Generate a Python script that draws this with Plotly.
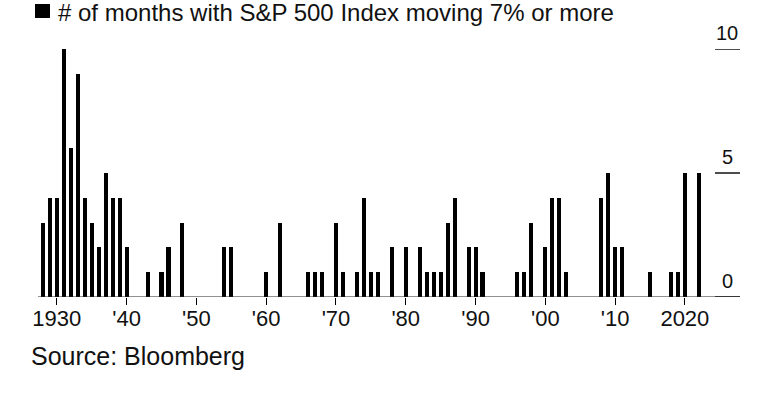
import plotly.graph_objects as go

years = list(range(1928, 2023))
months_7pct = [
    3, 4, 4, 10, 6, 9, 4, 3, 2, 5, 4, 4,      # 1928-1939
    2, 0, 0, 1, 0, 1, 2, 0, 3, 0,            # 1940-1949
    0, 0, 0, 0, 2, 2, 0, 0, 0, 0,            # 1950-1959
    1, 0, 3, 0, 0, 0, 1, 1, 1, 0,            # 1960-1969
    3, 1, 0, 1, 4, 1, 1, 0, 2, 0,            # 1970-1979
    2, 0, 2, 1, 1, 1, 3, 4, 0, 2,            # 1980-1989
    2, 1, 0, 0, 0, 0, 1, 1, 3, 0,            # 1990-1999
    2, 4, 4, 1, 0, 0, 0, 0, 4, 5,            # 2000-2009
    2, 2, 0, 0, 0, 1, 0, 0, 1, 1,            # 2010-2019
    5, 0, 5,                                 # 2020-2022
]
tick_years = [1930, 1940, 1950, 1960, 1970, 1980, 1990, 2000, 2010, 2020]
tick_labels = ["1930", "'40", "'50", "'60", "'70", "'80", "'90", "'00", "'10", "2020"]
y_ticks = [0, 5, 10]
y_tick_labels = ["0", "5", "10"]

legend_text = "# of months with S&P 500 Index moving 7% or more"
source_text = "Source: Bloomberg"

FONT = "Liberation Sans, Arial, Helvetica, sans-serif"
W, H = 778, 401
ML, MR, MT, MB = 38, 38, 49, 104
plot_w = W - ML - MR
plot_h = H - MT - MB


def px_to_paper_x(px):
    return (px - ML) / plot_w


def px_to_paper_y(py):
    return (H - MB - py) / plot_h


fig = go.Figure()
fig.add_trace(go.Bar(
    x=years, y=months_7pct, width=0.58,
    marker=dict(color="#000000", line=dict(width=0)),
    showlegend=False, hoverinfo="x+y",
))

shapes = []
annotations = []
# right-hand y tick stubs and labels
for v, lab in zip(y_ticks, y_tick_labels):
    shapes.append(dict(type="line", xref="paper", yref="y",
                       x0=px_to_paper_x(715), x1=1.0, y0=v, y1=v,
                       line=dict(color="#000000", width=1.4)))
    annotations.append(dict(xref="paper", yref="y", x=px_to_paper_x(727), y=v,
                            yshift=16, text=lab, showarrow=False,
                            xanchor="center", yanchor="middle",
                            font=dict(family=FONT, size=20, color="#111111")))

# baseline
shapes.append(dict(type="line", xref="paper", yref="y", x0=0, x1=1, y0=0, y1=0,
                   line=dict(color="#222222", width=1)))

# legend square
shapes.append(dict(type="rect", xref="paper", yref="paper",
                   x0=px_to_paper_x(35), x1=px_to_paper_x(50),
                   y0=px_to_paper_y(18), y1=px_to_paper_y(4),
                   fillcolor="#000000", line=dict(width=0)))
annotations.append(dict(xref="paper", yref="paper", x=px_to_paper_x(56), y=px_to_paper_y(12),
                        text=legend_text, showarrow=False, xanchor="left", yanchor="middle",
                        font=dict(family=FONT, size=24, color="#111111")))
annotations.append(dict(xref="paper", yref="paper", x=px_to_paper_x(29), y=px_to_paper_y(356),
                        text=source_text, showarrow=False, xanchor="left", yanchor="middle",
                        font=dict(family=FONT, size=25, color="#111111")))

fig.update_layout(
    width=W, height=H,
    margin=dict(l=ML, r=MR, t=MT, b=MB, pad=0),
    plot_bgcolor="#ffffff", paper_bgcolor="#ffffff",
    bargap=0,
    shapes=shapes, annotations=annotations,
    xaxis=dict(range=[1927.3, 2027.9], tickmode="array", tickvals=tick_years,
               ticktext=tick_labels, ticks="outside", ticklen=7, tickwidth=1.4,
               tickcolor="#000000", showgrid=False, zeroline=False, showline=False,
               ticklabelstandoff=-5,
               tickfont=dict(family=FONT, size=22, color="#111111")),
    yaxis=dict(range=[0, 10], showgrid=False, zeroline=False, showline=False,
               showticklabels=False, ticks=""),
)

fig.write_html("out.html", config={"displayModeBar": False},
               post_script="document.body.style.margin='0px';document.body.style.overflow='hidden';")
